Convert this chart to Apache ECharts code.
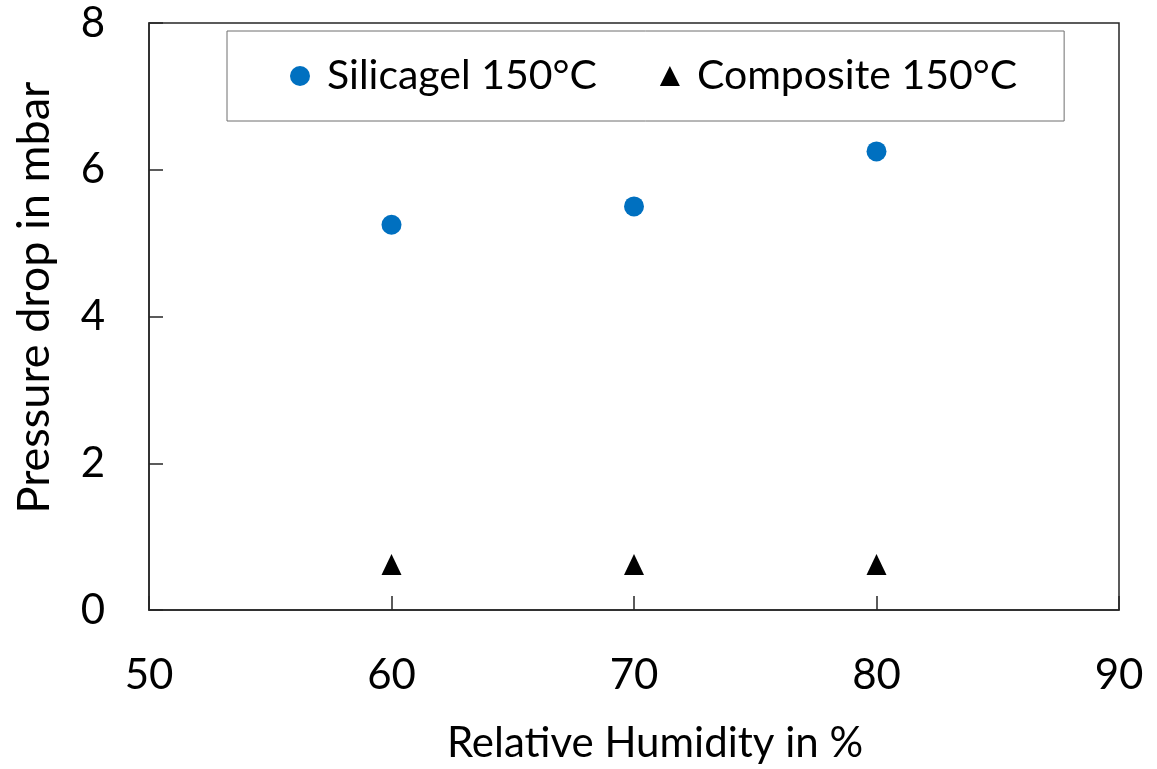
<!DOCTYPE html>
<html>
<head>
<meta charset="utf-8">
<title>Pressure drop vs relative humidity</title>
<script src="https://cdn.jsdelivr.net/npm/echarts@6/dist/echarts.min.js"></script>
<style>
  html, body { margin: 0; padding: 0; background: #fff; }
  #chart { width: 1157px; height: 769px; }
</style>
</head>
<body>
<div id="chart"></div>
<script>
// Relative humidity settings (%)
const humidity = [60, 70, 80];
// Pressure drop (mbar) per material at 150°C
const silicagel = [5.25, 5.5, 6.25];
const composite = [0.62, 0.62, 0.62];
// Axis ranges
const xTicks = [50, 60, 70, 80, 90];
const yTicks = [0, 2, 4, 6, 8];

const FONT = 'Lato';
const pair = (xs, ys) => xs.map((x, i) => [x, ys[i]]);

const chart = echarts.init(document.getElementById('chart'), null, { renderer: 'canvas' });

chart.setOption({
  backgroundColor: '#ffffff',
  animation: false,
  textStyle: { fontFamily: FONT, color: '#000' },
  grid: {
    left: 149, right: 38, top: 23, bottom: 156,
    show: true, borderColor: '#262626', borderWidth: 1.5,
    containLabel: false
  },
  legend: {
    left: 227, top: 31,
    orient: 'horizontal',
    padding: [23, 47, 23, 63],
    itemGap: 63,
    itemWidth: 20, itemHeight: 20,
    borderColor: '#6f6f6f', borderWidth: 1,
    textStyle: { fontFamily: FONT, fontSize: 41, color: '#000', lineHeight: 44, padding: [0, 0, 0, 12] },
    data: [
      { name: 'Silicagel 150°C', icon: 'circle' },
      { name: 'Composite 150°C', icon: 'triangle' }
    ]
  },
  xAxis: {
    type: 'value',
    min: xTicks[0], max: xTicks[xTicks.length - 1], interval: 10,
    name: 'Relative Humidity in %',
    nameLocation: 'middle', nameGap: 112,
    nameTextStyle: { fontFamily: FONT, fontSize: 42, color: '#000', padding: [0, 0, 0, 42] },
    axisLine: { show: true, onZero: false, lineStyle: { color: '#262626', width: 1.5 } },
    axisTick: { show: true, inside: true, length: 14, lineStyle: { color: '#262626', width: 1.5 } },
    axisLabel: { fontFamily: FONT, fontSize: 42, color: '#000', margin: 44 },
    splitLine: { show: false }
  },
  yAxis: {
    type: 'value',
    min: yTicks[0], max: yTicks[yTicks.length - 1], interval: 2,
    name: 'Pressure drop in mbar',
    nameLocation: 'middle', nameGap: 92,
    nameTextStyle: { fontFamily: FONT, fontSize: 45, color: '#000', padding: [0, 0, 0, 38] },
    axisLine: { show: true, lineStyle: { color: '#262626', width: 1.5 } },
    axisTick: { show: true, inside: true, length: 14, lineStyle: { color: '#262626', width: 1.5 } },
    axisLabel: { fontFamily: FONT, fontSize: 42, color: '#000', margin: 44 },
    splitLine: { show: false }
  },
  series: [
    {
      name: 'Silicagel 150°C',
      type: 'scatter',
      symbol: 'circle',
      symbolSize: 20,
      itemStyle: { color: '#0070C0', opacity: 1 },
      data: pair(humidity, silicagel)
    },
    {
      name: 'Composite 150°C',
      type: 'scatter',
      symbol: 'triangle',
      symbolSize: [20, 21],
      itemStyle: { color: '#000000', opacity: 1 },
      data: pair(humidity, composite)
    }
  ]
});
</script>
</body>
</html>
